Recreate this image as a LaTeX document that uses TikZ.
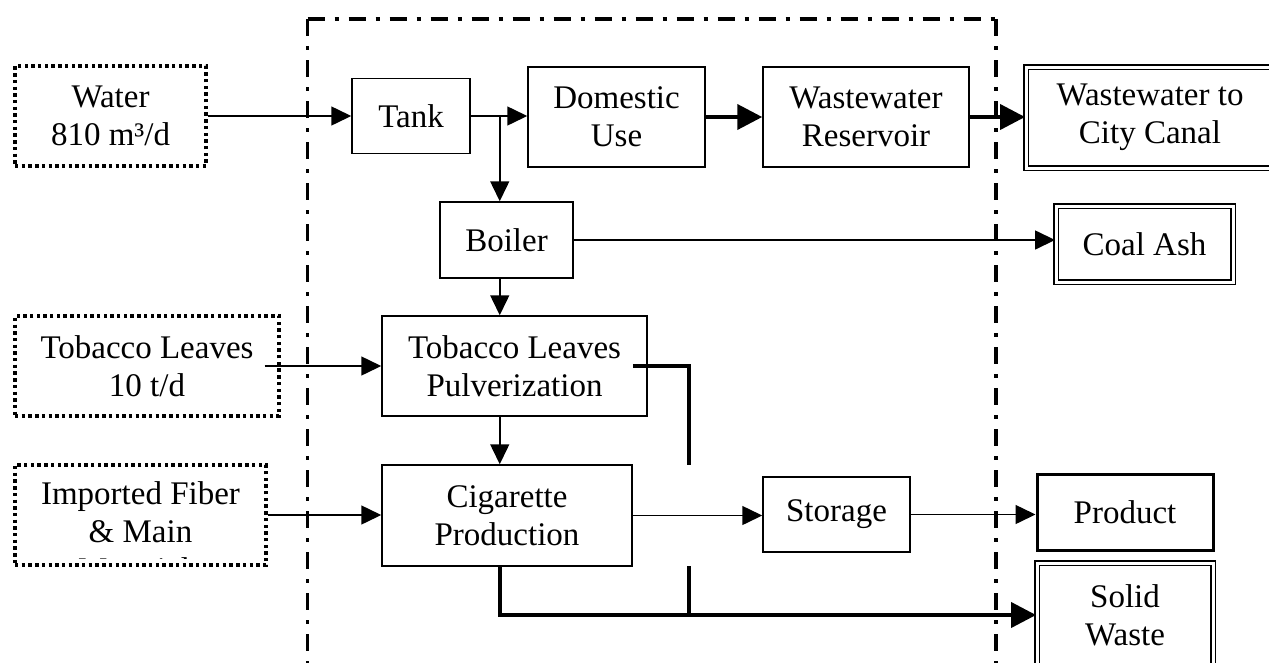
\documentclass[tikz,border=0pt]{standalone}
\usepackage{fontspec}
\setmainfont{Liberation Serif}
\usetikzlibrary{arrows.meta}
\begin{document}
\begin{tikzpicture}[x=1pt,y=-1pt,
  every node/.style={font=\fontsize{33}{38}\selectfont, align=center, inner sep=0pt},
  box/.style={draw, line width=1.5pt, rectangle},
  inbox/.style={draw, line width=3.4pt, dash pattern=on 3.4pt off 3.3pt},
  outbox/.style={draw, double, double distance=3pt, line width=1.9pt},
  prodbox/.style={draw, line width=3pt},
  flow/.style={line width=1.5pt, -{Triangle[length=20pt,width=19pt]}},
  bigflow/.style={line width=4pt, -{Triangle[length=25pt,width=25pt]}},
  bigline/.style={line width=4pt},
  boundary/.style={line width=3.6pt, dash pattern=on 17pt off 10pt on 4pt off 10pt}]
\useasboundingbox (0,0) rectangle (1269,662);
\clip (0,0) rectangle (1269,662);

% plant boundary (open at the bottom)
\draw[boundary] (307.5,19) -- (307.5,680);
\draw[boundary] (307.5,19) -- (996,19);
\draw[boundary] (996,19) -- (996,680);

% inputs
\node[inbox, minimum width=191pt, minimum height=100pt] (water) at (110.5,116) {Water\\810 m³/d};
\node[inbox, minimum width=264pt, minimum height=100pt] (tobacco) at (147,366) {Tobacco Leaves\\10 t/d};
\node[inbox, minimum width=251pt, minimum height=100pt] (fiber) at (140.5,515) {};
\begin{scope}
  \clip (17,467) rectangle (264,558);
  \node[anchor=north] (fibertext) at (140.5,481.5) {Imported Fiber\\\& Main\\Materials};
\end{scope}

% process units
\node[box, minimum width=118pt, minimum height=75pt] (tank) at (411,116) {Tank};
\node[box, minimum width=177pt, minimum height=100pt] (domestic) at (616.5,117) {Domestic\\Use};
\node[box, minimum width=206pt, minimum height=100pt] (reservoir) at (866,117) {Wastewater\\Reservoir};
\node[box, minimum width=133pt, minimum height=76pt] (boiler) at (506.5,240) {Boiler};
\node[box, minimum width=265pt, minimum height=100pt] (pulver) at (514.5,366) {Tobacco Leaves\\Pulverization};
\node[box, minimum width=250pt, minimum height=101pt] (cig) at (507,515.5) {Cigarette\\Production};
\node[box, minimum width=147pt, minimum height=75pt] (storage) at (836.5,514.5) {Storage};

% outputs
\node[outbox, minimum width=248pt, minimum height=101pt] (canal) at (1150,117.5) {Wastewater to\\City Canal};
\node[outbox, minimum width=177pt, minimum height=76pt] (coal) at (1144.5,244) {Coal Ash};
\node[prodbox, minimum width=176pt, minimum height=76pt] (product) at (1125,512) {Product};
\node[outbox, minimum width=176pt, minimum height=104pt] (solid) at (1125,615) {Solid\\Waste};

% helper points
\path (tank.east) ++(29,0) coordinate (split);
\coordinate (gapTop) at (689,465);
\coordinate (gapBot) at (689,566);
\coordinate (wjoin) at (689,615);

% water and steam
\draw[flow] (water.east) -- (water.east -| tank.west);
\draw[flow] (tank.east) -- (tank.east -| domestic.west);
\draw[flow] (split) -- (split |- boiler.north);
\draw[bigflow] (domestic.east) -- (reservoir.west);
\draw[bigflow] (reservoir.east) -- (reservoir.east -| canal.west);
\draw[flow] (boiler.east) -- (boiler.east -| coal.west);
\draw[flow] (boiler.south -| split) -- (pulver.north -| split);

% tobacco line
\draw[flow] ([xshift=-16pt]tobacco.east) -- (tobacco.east -| pulver.west);
\draw[flow] (pulver.south -| split) -- (cig.north -| split);
\draw[flow] (fiber.east) -- (fiber.east -| cig.west);
\draw[flow] (cig.east) -- (cig.east -| storage.west);
\draw[flow] (storage.east) -- (storage.east -| product.west);

% solid waste
\draw[bigline] ([xshift=-15pt]pulver.east) -| (gapTop);
\draw[bigline] (gapBot) -- (wjoin);
\draw[bigflow] (cig.south -| split) |- (solid.west);
\end{tikzpicture}
\end{document}
